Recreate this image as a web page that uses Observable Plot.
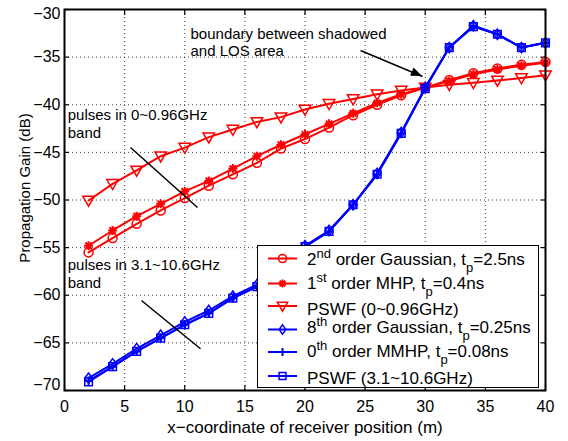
<!DOCTYPE html>
<html><head><meta charset="utf-8">
<script src="https://cdn.jsdelivr.net/npm/d3@7"></script>
<script src="https://cdn.jsdelivr.net/npm/@observablehq/plot@0.6"></script>
<style>
body{margin:0;background:#fff;}
#chart{width:568px;height:441px;}
</style></head><body><div id="chart"></div>
<script>
// ---- data ----
const xs = [2,4,6,8,10,12,14,16,18,20,22,24,26,28,30,32,34,36,38,40];
const gauss2   = [-55.5,-54.0,-52.5,-51.1,-49.8,-48.5,-47.3,-46.1,-44.6,-43.6,-42.4,-41.1,-40.0,-39.0,-38.2,-37.4,-36.7,-36.2,-35.8,-35.5];
const mhp1     = [-54.8,-53.2,-51.7,-50.4,-49.1,-48.0,-46.7,-45.4,-44.2,-43.1,-42.0,-40.9,-39.8,-38.9,-38.2,-37.5,-36.8,-36.3,-35.9,-35.6];
const pswfLow  = [-50.05,-48.3,-46.9,-45.4,-44.5,-43.4,-42.6,-41.8,-41.3,-40.5,-39.9,-39.4,-38.9,-38.5,-38.2,-37.9,-37.7,-37.45,-37.2,-36.9];
const gauss8   = [-68.7,-67.2,-65.6,-64.2,-62.8,-61.6,-60.1,-58.9,-57.0,-54.8,-53.2,-50.5,-47.2,-42.9,-38.2,-34.0,-31.7,-32.6,-34.0,-33.5];
const mmhp0    = [-69.0,-67.5,-65.9,-64.5,-63.1,-61.9,-60.3,-59.1,-57.1,-54.9,-53.3,-50.5,-47.3,-43.0,-38.2,-34.0,-31.7,-32.6,-34.0,-33.5];
const pswfHigh = [-69.1,-67.5,-65.9,-64.5,-63.1,-61.9,-60.3,-59.1,-57.1,-54.9,-53.3,-50.5,-47.3,-43.0,-38.3,-34.0,-31.8,-32.6,-34.0,-33.5];

const xTicks = [0,5,10,15,20,25,30,35,40];
const yTicks = [-70,-65,-60,-55,-50,-45,-40,-35,-30];
const xGrid = [5,10,15,20,25,30,35];
const yGrid = [-65,-60,-55,-50,-45,-40,-35];

const xLabel = "x\u2212coordinate of receiver position (m)";
const yLabel = "Propagation Gain (dB)";

// legend entries: [main, sup, middle, sub, end]
const legendLabels = [
  ["2","nd"," order Gaussian, t","p","=2.5ns"],
  ["1","st"," order MHP, t","p","=0.4ns"],
  ["PSWF (0~0.96GHz)","","","",""],
  ["8","th"," order Gaussian, t","p","=0.25ns"],
  ["0","th"," order MMHP, t","p","=0.08ns"],
  ["PSWF (3.1~10.6GHz)","","","",""]
];

// annotations
const annoText = ["boundary between shadowed\nand LOS area","pulses in 0~0.96GHz\nband","pulses in 3.1~10.6GHz\nband"];
const annoTextX = [10.48, 0.27, 0.27];
const annoTextY = [-34.93, -43.47, -59.22];
const slashX1 = [5.49, 6.40];
const slashY1 = [-44.49, -60.55];
const slashX2 = [11.06, 11.31];
const slashY2 = [-50.79, -65.62];
const arrowX1 = [24.62], arrowY1 = [-34.30], arrowX2 = [29.77], arrowY2 = [-37.03];

// ---- symbols ----
const triDown = {draw(ctx, size){ const r=Math.sqrt(size/Math.PI);
  ctx.moveTo(-1.15*r,-0.85*r); ctx.lineTo(1.15*r,-0.85*r); ctx.lineTo(0,1.15*r); ctx.closePath(); }};
const diamondM = {draw(ctx, size){ const r=Math.sqrt(size/Math.PI);
  ctx.moveTo(0,-1.15*r); ctx.lineTo(0.85*r,0); ctx.lineTo(0,1.15*r); ctx.lineTo(-0.85*r,0); ctx.closePath(); }};
const squareM = {draw(ctx, size){ const r=Math.sqrt(size/Math.PI)*0.85;
  ctx.moveTo(-r,-r); ctx.lineTo(r,-r); ctx.lineTo(r,r); ctx.lineTo(-r,r); ctx.closePath(); }};
const asteriskM = {draw(ctx, size){ const r=Math.sqrt(size/Math.PI);
  for (let k=0;k<4;k++){ const a=k*Math.PI/4; ctx.moveTo(-r*Math.cos(a),-r*Math.sin(a)); ctx.lineTo(r*Math.cos(a),r*Math.sin(a)); } }};
const plusM = {draw(ctx, size){ const r=Math.sqrt(size/Math.PI);
  ctx.moveTo(-r,0); ctx.lineTo(r,0); ctx.moveTo(0,-r); ctx.lineTo(0,r); }};

const RED="#ff0000", BLUE="#0000ff";
const specs = [
  {vals:gauss2,  color:RED,  symbol:d3.symbolCircle, r:4.5, sw:1.5},
  {vals:mhp1,    color:RED,  symbol:asteriskM, r:4.5, sw:2},
  {vals:pswfLow, color:RED,  symbol:triDown, r:5, sw:1.5},
  {vals:gauss8,  color:BLUE, symbol:diamondM, r:4.5, sw:1.5},
  {vals:mmhp0,   color:BLUE, symbol:plusM, r:4.5, sw:2},
  {vals:pswfHigh,color:BLUE, symbol:squareM, r:4.5, sw:1.5}
];

const FONT = "'Liberation Sans', Arial, Helvetica, sans-serif";

const seriesMarks = specs.flatMap(sp => {
  const d = xs.map((x,i)=>({x, y: sp.vals[i]}));
  return [
    Plot.line(d, {x:"x", y:"y", stroke:sp.color, strokeWidth:2}),
    Plot.dot(d, {x:"x", y:"y", stroke:sp.color, fill:"none", symbol:sp.symbol, r:sp.r, strokeWidth:sp.sw})
  ];
});

const annoRows = annoText.map((t,i)=>({t, x:annoTextX[i], y:annoTextY[i]}));
const slashRows = slashX1.map((v,i)=>({x1:v, y1:slashY1[i], x2:slashX2[i], y2:slashY2[i]}));
const arrowRows = arrowX1.map((v,i)=>({x1:v, y1:arrowY1[i], x2:arrowX2[i], y2:arrowY2[i]}));

const tickStyle = {stroke:"#000", strokeWidth:1.2, text:null, tickSize:5};

const plot = Plot.plot({
  width:568, height:441,
  marginLeft:64, marginRight:23, marginTop:9, marginBottom:51,
  x:{domain:[0,40]},
  y:{domain:[-70,-30]},
  style:{fontFamily:FONT, fontSize:"16px", color:"#000", background:"#fff", overflow:"visible"},
  marks:[
    Plot.gridX(xGrid, {stroke:"#000", strokeOpacity:0.75, strokeDasharray:"1,3", strokeWidth:1}),
    Plot.gridY(yGrid, {stroke:"#000", strokeOpacity:0.75, strokeDasharray:"1,3", strokeWidth:1}),
    Plot.axisX(xTicks, {anchor:"bottom", tickSize:0, tickPadding:10, fontSize:16, label:null}),
    Plot.axisY(yTicks.filter(v=>v>-70 && v<-30), {anchor:"left", tickSize:0, tickPadding:4, fontSize:16, label:null}),
    Plot.axisY([-30], {anchor:"left", tickSize:0, tickPadding:4, fontSize:16, label:null, dy:4}),
    Plot.axisY([-70], {anchor:"left", tickSize:0, tickPadding:4, fontSize:16, label:null, dy:-6}),
    Plot.axisX(xTicks, {anchor:"bottom", ...tickStyle, dy:-5}),
    Plot.axisX(xTicks, {anchor:"top", ...tickStyle, dy:5}),
    Plot.axisY(yTicks, {anchor:"left", ...tickStyle, dx:5}),
    Plot.axisY(yTicks, {anchor:"right", ...tickStyle, dx:-5}),
    ...seriesMarks,
    Plot.link(slashRows, {x1:"x1", y1:"y1", x2:"x2", y2:"y2", stroke:"#000", strokeWidth:1.5}),
    Plot.link(arrowRows, {x1:"x1", y1:"y1", x2:"x2", y2:"y2", stroke:"#000", strokeWidth:1.5}),
    Plot.text(annoRows, {x:"x", y:"y", text:"t", textAnchor:"start", lineAnchor:"bottom", lineHeight:1.17, fontSize:15, fill:"#000"}),
    Plot.text([xLabel], {text:d=>d, frameAnchor:"bottom", dy:37, lineAnchor:"middle", fontSize:17, fill:"#000"}),
    Plot.text([yLabel], {text:d=>d, frameAnchor:"left", rotate:-90, dx:-39, dy:-12, lineAnchor:"middle", textAnchor:"middle", fontSize:15, fill:"#000"}),
    Plot.frame({stroke:"#000", strokeWidth:2})
  ]
});

document.getElementById("chart").appendChild(plot);

// arrow head (filled), positioned through the plot's scales
const sx = plot.scale("x"), sy = plot.scale("y");
const svg = d3.select(plot);
arrowRows.forEach(a => {
  const X1=sx.apply(a.x1), Y1=sy.apply(a.y1), X2=sx.apply(a.x2), Y2=sy.apply(a.y2);
  const ang = Math.atan2(Y2-Y1, X2-X1), L=11, W=4.5;
  const bx = X2 - L*Math.cos(ang), by = Y2 - L*Math.sin(ang);
  const px = -Math.sin(ang)*W, py = Math.cos(ang)*W;
  svg.append("path").attr("d", `M${X2},${Y2}L${bx+px},${by+py}L${bx-px},${by-py}Z`).attr("fill","#000");
});

// legend
const lg = svg.append("g").attr("font-family", FONT).attr("font-size", 17).attr("text-anchor","start");
lg.append("rect").attr("x",257.5).attr("y",245.5).attr("width",281).attr("height",142)
  .attr("fill","#fff").attr("stroke","#000").attr("stroke-width",1);
const lineYs = [258.5, 283.5, 306, 329.5, 352, 376];
const baseYs = [265, 288.5, 315, 332.5, 356.5, 383.5];
legendLabels.forEach((lab,i)=>{
  const sp = specs[i];
  lg.append("line").attr("x1",268).attr("x2",297).attr("y1",lineYs[i]).attr("y2",lineYs[i])
    .attr("stroke",sp.color).attr("stroke-width",2);
  lg.append("path").attr("transform",`translate(282.5,${lineYs[i]})`)
    .attr("d", d3.symbol(sp.symbol, Math.PI*sp.r*sp.r*0.8)())
    .attr("fill","none").attr("stroke",sp.color).attr("stroke-width",sp.sw);
  const t = lg.append("text").attr("x",307).attr("y",baseYs[i]).attr("fill","#000").attr("text-anchor","start");
  t.append("tspan").text(lab[0]);
  if (lab[1]) {
    t.append("tspan").attr("dy",-7).attr("font-size",13).text(lab[1]);
    t.append("tspan").attr("dy",7).text(lab[2]);
    t.append("tspan").attr("dy",7).attr("font-size",13).text(lab[3]);
    t.append("tspan").attr("dy",-7).text(lab[4]);
  }
});
</script>
</body></html>
